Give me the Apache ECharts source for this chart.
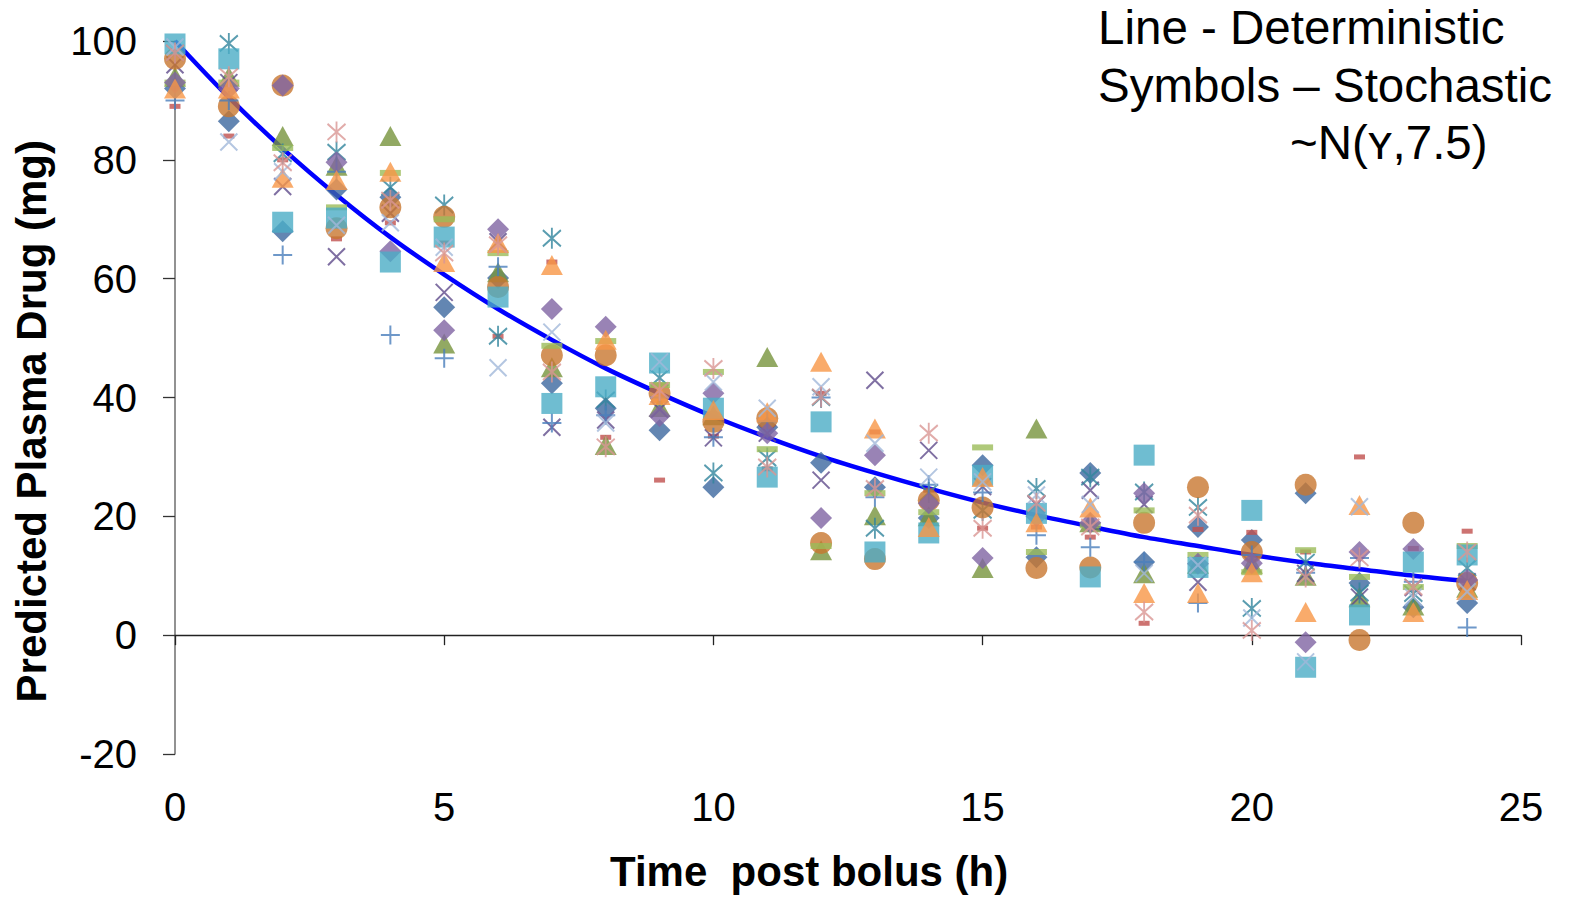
<!DOCTYPE html>
<html>
<head>
<meta charset="utf-8">
<script src="https://cdn.jsdelivr.net/npm/echarts@6/dist/echarts.min.js"></script>
<style>html,body{margin:0;padding:0;background:#fff}#main{width:1573px;height:902px}</style>
</head>
<body>
<div id="main"></div>
<script>
// ---- data ----
const times = [0,1,2,3,4,5,6,7,8,9,10,11,12,13,14,15,16,17,18,19,20,21,22,23,24];
const deterministic = [100,90.5,81.9,74.1,67.0,60.7,54.9,49.7,44.9,40.7,36.8,33.3,30.1,27.3,24.7,22.3,20.2,18.3,16.5,15.0,13.5,12.2,11.1,10.0,9.1];
const sim1  = [92,86.5,68,75,73.7,55.2,60.1,42.4,38.2,34.5,24.9,35,29,24.9,19.7,28.6,13.1,27.3,12.3,18.2,16,23.9,8.8,4.7,5.4];
const sim2  = [89,84,80,66.7,69.4,66,50.3,62.8,33.3,26.1,33.5,28,40.7,34.2,24.4,18,18.2,16.5,2,17.8,17.3,14,30,14.6,17.5];
const sim3  = [94,94,84,79,84,49.1,61.1,45.1,32,38.4,37,46.8,14.3,20.2,20,11.3,34.8,19,10.4,12,12,10,6.4,5,8];
const sim4  = [96,93,75.5,63.7,71,57.7,66.2,35,36.2,38,33.2,34,26.1,42.9,31.1,25,22,24.4,22,8.9,12,10.4,6.4,8,9];
const sim5  = [98,99.6,81,81.3,75.4,72.4,50.3,66.8,39.6,43.3,27.3,29.8,40,18,24,21,24.7,26.6,24.1,21.5,4.5,12.3,7.1,7,11.3];
const sim6  = [97,89,92.5,68.5,72,70.4,58.6,47.1,47.1,40.7,35.9,36.5,15.5,12.8,22.7,21.5,11.3,11.4,18.9,24.9,14,25.3,-0.8,18.9,8.8];
const sim7  = [90,90,64,78,50.5,46.6,62,35.7,37,40,33.3,36,40,23.2,25.3,24,16.8,14.8,12.3,5.4,13.5,10.5,13,9,1.3];
const sim8  = [93,93,82,72,77.8,70,64.3,48.7,49.5,42.1,44.3,31.3,15,23.9,20.7,31.6,14,18.5,21,13.5,10.6,14.3,9.8,8.1,15];
const sim9  = [93,92,92.5,79.6,64.6,51.3,68.3,54.9,51.9,36.9,40.7,34,19.7,30.3,22.2,13,20,18.9,23.9,12,12.1,-1.2,14,14.5,9.3];
const sim10 = [99.5,97,69.5,70.2,62.8,67,56.9,39,41.8,45.8,38.2,26.6,35.9,14,17.2,26.9,20.5,9.8,30.3,11.4,21,-5.4,3.4,12.3,13.5];
const sim11 = [92,92,77,76.6,78,62.8,66,62.3,49.7,40.4,37.9,37.5,46,34.8,18.2,26.6,19,21.5,7.1,7.1,10.6,3.9,21.9,3.9,7.6];
const sim12 = [99,83,78,69,69.4,65.3,45,51,35.7,46,42.6,38.2,41.8,32.3,26.6,25.8,23.6,22,10.4,11.8,2.9,-4.5,21.6,6.4,7.3];
const sim13 = [98,94,79.5,84.7,73.2,64.3,65.7,44.3,31.7,41.2,44.9,28.3,40.1,24.7,34,18,22.2,18.2,3.9,20.2,0.8,9.8,13,8.1,14];
const xTicks = [0,5,10,15,20,25];
const yTicks = [-20,0,20,40,60,80,100];

// ---- styles ----
const FONT = '"Liberation Sans", Arial, sans-serif';
const X_PATH = 'path://M0,0L10,10M10,0L0,10';
const AST_PATH = 'path://M0,0L10,10M10,0L0,10M5,-1.5L5,11.5';
const PLUS_PATH = 'path://M5,0L5,10M0,5L10,5';
const simStyles = [
  {data: sim1,  symbol:'diamond',  size:[22,22], color:'#3C689F'},
  {data: sim2,  symbol:'rect',     size:[11,5],  color:'#C0504D'},
  {data: sim3,  symbol:'triangle', size:[22,20], color:'#77933C'},
  {data: sim4,  symbol:X_PATH,     size:[17,17], stroke:'#5F4B8B'},
  {data: sim5,  symbol:AST_PATH,   size:[18,21], stroke:'#31859C'},
  {data: sim6,  symbol:'circle',   size:[22,22], color:'#C8772F'},
  {data: sim7,  symbol:PLUS_PATH,  size:[19,19], stroke:'#4A7EBB'},
  {data: sim8,  symbol:'rect',     size:[21,6],  color:'#9BBB59'},
  {data: sim9,  symbol:'diamond',  size:[22,22], color:'#8064A2'},
  {data: sim10, symbol:'rect',     size:[21,21], color:'#4BACC6'},
  {data: sim11, symbol:'triangle', size:[22,20], color:'#F79646'},
  {data: sim12, symbol:X_PATH,     size:[17,17], stroke:'#A1B8DA'},
  {data: sim13, symbol:AST_PATH,   size:[18,21], stroke:'#D99694'}
];

const series = [{
  type:'line', name:'Deterministic', xAxisIndex:0, yAxisIndex:0,
  data: times.map((t,i)=>[t, deterministic[i]]),
  smooth: 0.3, showSymbol:false, symbol:'none',
  lineStyle:{color:'#0000FF', width:4.5}, z:2, silent:true
}];
simStyles.forEach((s,k)=>{
  const it = s.stroke
    ? {color:'rgba(0,0,0,0)', borderColor:s.stroke, borderWidth:2}
    : {color:s.color, borderWidth:0};
  series.push({
    type:'scatter', name:'Sim '+(k+1), xAxisIndex:0, yAxisIndex:0,
    data: times.map((t,i)=>[t, s.data[i]]),
    symbol:s.symbol, symbolSize:s.size, itemStyle:it, z:3+k, silent:true
  });
});

const chart = echarts.init(document.getElementById('main'), null, {renderer:'svg'});
chart.setOption({
  animation:false,
  backgroundColor:'#fff',
  grid:{left:175, right:52, top:41, bottom:148, containLabel:false},
  xAxis:[
    {type:'value', min:xTicks[0], max:xTicks[xTicks.length-1], interval:5, position:'bottom',
     axisLine:{show:false, onZero:false}, axisTick:{show:false}, splitLine:{show:false},
     axisLabel:{fontSize:40, color:'#000', fontFamily:FONT, margin:33}},
    {type:'value', min:xTicks[0], max:xTicks[xTicks.length-1], interval:5, position:'top',
     axisLine:{show:true, onZero:true, lineStyle:{color:'#222', width:1.3}},
     axisTick:{show:true, inside:true, length:10, lineStyle:{color:'#222', width:1.3}},
     axisLabel:{show:false}, splitLine:{show:false}}
  ],
  yAxis:{type:'value', min:yTicks[0], max:yTicks[yTicks.length-1], interval:20,
    axisLine:{show:true, onZero:false, lineStyle:{color:'#6e6e6e', width:1.5}},
    axisTick:{show:true, length:12, lineStyle:{color:'#333', width:1.3}},
    splitLine:{show:false},
    axisLabel:{fontSize:40, color:'#000', fontFamily:FONT, margin:38}},
  graphic:[
    {type:'text', left:1098, top:3, style:{text:'Line - Deterministic', font:'47.5px '+FONT, fill:'#000'}},
    {type:'text', left:1098, top:61, style:{text:'Symbols \u2013 Stochastic', font:'47.5px '+FONT, fill:'#000'}},
    {type:'text', left:1290, top:118, style:{text:'~N(\u028F,7.5)', font:'47.5px '+FONT, fill:'#000'}},
    {type:'text', left:610, top:850, style:{text:'Time  post bolus (h)', font:'bold 42px '+FONT, fill:'#000'}},
    {type:'text', left:10, top:140, rotation:Math.PI/2, style:{text:'Predicted Plasma Drug (mg)', font:'bold 42px '+FONT, fill:'#000'}}
  ],
  series: series
});
</script>
</body>
</html>
